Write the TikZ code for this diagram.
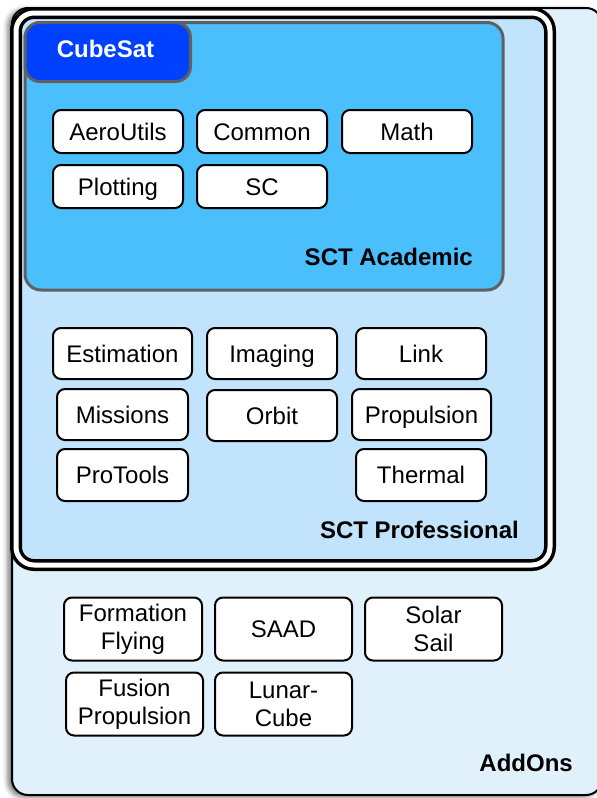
\documentclass[tikz,border=0pt]{standalone}
\usepackage{fontspec}
\setmainfont{Liberation Sans}
\usetikzlibrary{shadows.blur}
\definecolor{addonfill}{RGB}{225,241,252}
\definecolor{proffill}{RGB}{193,228,252}
\definecolor{acadfill}{RGB}{74,191,252}
\definecolor{cubefill}{RGB}{0,64,255}
\definecolor{grayborder}{RGB}{96,96,96}
\begin{document}
\begin{tikzpicture}[x=1pt,y=-1pt,
  font=\fontsize{24}{28}\selectfont,
  modbox/.style={draw=black, line width=2pt, fill=white, rounded corners=8pt,
    inner sep=0pt, minimum height=43pt, minimum width=130pt, align=center,
    text height=17.2pt, text depth=0pt},
  twobox/.style={draw=black, line width=2pt, fill=white, rounded corners=8pt,
    inner sep=0pt, minimum height=63pt, minimum width=137pt, align=center},
  grouplabel/.style={font=\fontsize{24}{28}\selectfont\bfseries, anchor=east,
    inner sep=0pt, text height=17.2pt, text depth=0pt}]
\useasboundingbox (0,0) rectangle (597,798);

% AddOns container
\draw[fill=addonfill, line width=2pt, rounded corners=16pt,
  blur shadow={shadow xshift=-4pt, shadow yshift=-2pt, shadow blur radius=5pt, shadow opacity=55}]
  (12,8) rectangle (602,795);

% SCT Professional container (double border)
\draw[fill=proffill, line width=3.5pt, double=white, double distance=5pt, rounded corners=18pt]
  (16,13) rectangle (550,565);

% SCT Academic container
\draw[fill=acadfill, draw=grayborder, line width=3pt, rounded corners=16pt]
  (25,22.5) rectangle (503,290);

% CubeSat tab
\draw[fill=cubefill, draw=grayborder, line width=3pt, rounded corners=15pt]
  (25,22.5) rectangle (190.5,81.5);
\node[text=white, font=\fontsize{24}{28}\selectfont\bfseries, inner sep=0pt,
  text height=17.2pt, text depth=0pt] (cubelabel) at (105.5,48.5) {CubeSat};

% Academic modules
\node[modbox] (aero) at (118,131.5) {AeroUtils};
\node[modbox] (common) at (262,131.5) {Common};
\node[modbox] (math) at (407,131.5) {Math};
\node[modbox] (plot) at (118,186.5) {Plotting};
\node[modbox] (sc) at (262,186.5) {SC};
\node[grouplabel] (acadlabel) at (473,257) {SCT Academic};

% Professional modules
\node[modbox, minimum width=139pt, minimum height=51pt] (estim) at (122.5,353.5) {Estimation};
\node[modbox, minimum height=51pt] (imag) at (272,353.5) {Imaging};
\node[modbox, minimum height=51pt] (link) at (421,353.5) {Link};
\node[modbox, minimum width=131pt, minimum height=51pt] (miss) at (122.5,414.5) {Missions};
\node[modbox, minimum height=51pt] (orbit) at (272,415.5) {Orbit};
\node[modbox, minimum width=139pt, minimum height=51pt] (prop) at (421.5,414.5) {Propulsion};
\node[modbox, minimum width=131pt, minimum height=52pt] (protools) at (122.5,475) {ProTools};
\node[modbox, minimum height=52pt] (thermal) at (421,475) {Thermal};
\node[grouplabel] (proflabel) at (519,530) {SCT Professional};

% AddOn modules
\node[twobox, minimum width=138pt] (formation) at (133,629) {Formation\\Flying};
\node[twobox, text height=17.2pt, text depth=0pt] (saad) at (283.5,629) {SAAD};
\node[twobox] (solar) at (433.5,629) {Solar\\Sail};
\node[twobox] (fusion) at (134.5,704) {Fusion\\Propulsion};
\node[twobox] (lunar) at (283.5,704) {Lunar-\\Cube};
\node[grouplabel] (addlabel) at (573,763) {AddOns};
\end{tikzpicture}
\end{document}
